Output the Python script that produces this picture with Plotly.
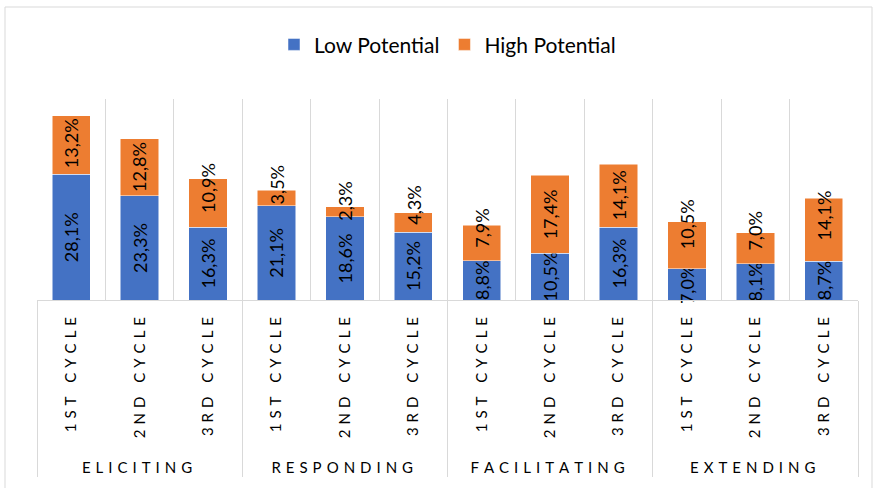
import plotly.graph_objects as go

# Stacked shares per strategy and coaching cycle
groups = ["ELICITING", "RESPONDING", "FACILITATING", "EXTENDING"]
cycles = ["1ST CYCLE", "2ND CYCLE", "3RD CYCLE"]

low_potential = [28.1, 23.3, 16.3, 21.1, 18.6, 15.2, 8.8, 10.5, 16.3, 7.0, 8.1, 8.7]
high_potential = [13.2, 12.8, 10.9, 3.5, 2.3, 4.3, 7.9, 17.4, 14.1, 10.5, 7.0, 14.1]

# upward nudge (px) of the High Potential labels so they clear the lower labels
high_label_nudge = [2, 0, 15, 13, 11, 17, 15, 0, 0, 21, 17, 14]


def spaced(s):
    """Wide letter spacing for the axis captions."""
    return "\u2004".join(s)


def pct_label(v):
    return f"{v:.1f}%".replace(".", ",")


# the leading spaces leave room between the two rows of axis captions
x_outer = [spaced(g) for g in groups for _ in cycles]
x_inner = ["\u2003\u2004" + spaced(c) for _ in groups for c in cycles]

FONT = "Lato, Calibri, sans-serif"
GRID = "#d9d9d9"
BLUE = "#4472C4"
ORANGE = "#ED7D31"

fig = go.Figure()
fig.add_trace(go.Bar(
    name="Low Potential",
    x=[x_outer, x_inner],
    y=low_potential,
    marker=dict(color=BLUE, line=dict(color="white", width=0.5)),
    text=[pct_label(v) for v in low_potential],
    textposition="inside",
    insidetextanchor="middle",
    textangle=-90,
    constraintext="none",
    insidetextfont=dict(family=FONT, size=18, color="black"),
    cliponaxis=False,
))
fig.add_trace(go.Bar(
    name="High Potential",
    x=[x_outer, x_inner],
    y=high_potential,
    marker=dict(color=ORANGE, line=dict(color="white", width=0.5)),
    textposition="none",
    cliponaxis=False,
))

# High Potential value labels, centred on their segment
annotations = []
for i, (lo, hi) in enumerate(zip(low_potential, high_potential)):
    annotations.append(dict(
        x=i, y=lo + hi / 2, xref="x", yref="y",
        text=pct_label(hi), showarrow=False, textangle=-90,
        yshift=high_label_nudge[i],
        font=dict(family=FONT, size=18, color="black"),
    ))

fig.update_layout(
    barmode="stack",
    bargap=0.44,
    width=877,
    height=488,
    margin=dict(l=37, r=19, t=99, b=188),
    paper_bgcolor="white",
    plot_bgcolor="white",
    font=dict(family=FONT, color="black"),
    legend=dict(
        orientation="h",
        x=0.5, xanchor="center",
        y=1.27, yanchor="middle",
        font=dict(family=FONT, size=21),
        traceorder="normal",
    ),
    xaxis=dict(
        type="multicategory",
        tickson="boundaries",
        showgrid=True,
        gridcolor=GRID,
        showline=True,
        linecolor=GRID,
        ticks="",
        tickangle=-90,
        ticklabelstandoff=10,
        tickfont=dict(family=FONT, size=15, color="black"),
        showdividers=True,
        dividercolor=GRID,
        dividerwidth=1,
    ),
    yaxis=dict(
        range=[0, 45],
        showticklabels=False,
        showgrid=False,
        zeroline=False,
        showline=False,
    ),
    annotations=annotations,
    shapes=[dict(
        type="rect", xref="paper", yref="paper",
        x0=-32 / 821, x1=1 + 14 / 821, y0=-200 / 201, y1=1 + 92 / 201,
        line=dict(color=GRID, width=1), fillcolor="rgba(0,0,0,0)", layer="below",
    )],
)

fig.write_html("out.html")
